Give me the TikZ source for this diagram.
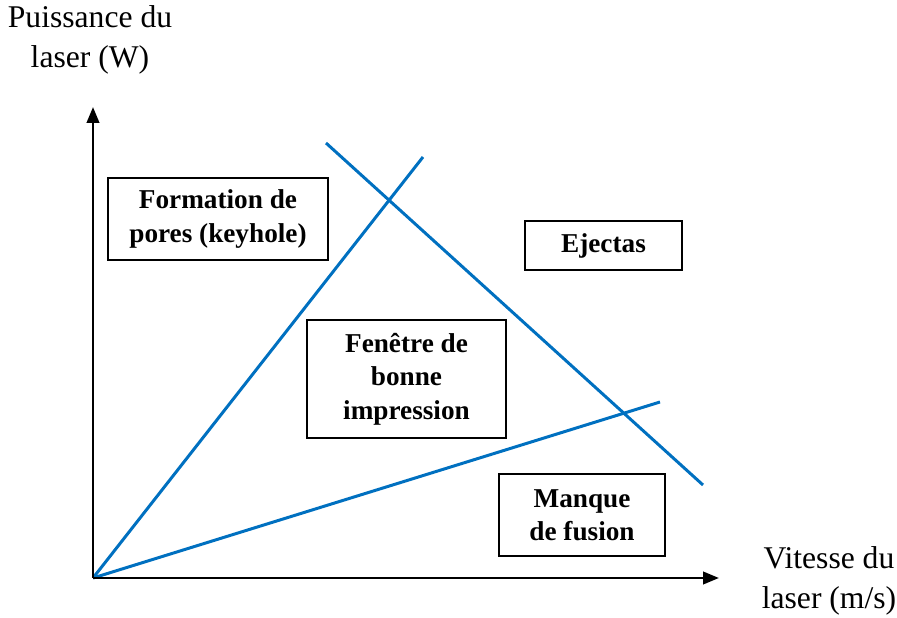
\documentclass[tikz,border=0pt]{standalone}
\usepackage{fontspec}
\setmainfont{Liberation Serif}
\usetikzlibrary{arrows.meta}
\definecolor{lineblue}{RGB}{0,112,192}
\begin{document}
\begin{tikzpicture}[x=0.02cm,y=-0.02cm,
  regbox/.style={draw=black,line width=1.1pt,fill=white,font=\bfseries\fontsize{15.5}{19}\selectfont,align=center,inner sep=0pt},
  axis/.style={line width=1.5pt,-{Triangle[length=9pt,width=7pt]}},
  bound/.style={lineblue,line width=1.7pt},
  axlabel/.style={font=\fontsize{18}{22.5}\selectfont,align=center}]
\useasboundingbox (0,0) rectangle (897,618);
\coordinate (O) at (93,578);
\coordinate (ytip) at (93,107);
\coordinate (xtip) at (719,578);
\coordinate (a1) at (423,157);
\coordinate (a2) at (660,402);
\coordinate (b1) at (326,143);
\coordinate (b2) at (703,485);
\draw[bound] (O) -- (a1);
\draw[bound] (O) -- (a2);
\draw[bound] (b1) -- (b2);
\draw[axis] (O) -- (ytip);
\draw[axis] (O) -- (xtip);
\node[regbox,minimum width=220*0.02cm,minimum height=82*0.02cm] (keyhole) at (218,219) {Formation de\\pores (keyhole)};
\node[regbox,minimum width=157*0.02cm,minimum height=49*0.02cm] (ejectas) at (603.5,245.5) {Ejectas};
\node[regbox,minimum width=199*0.02cm,minimum height=118*0.02cm] (fenetre) at (406.5,379) {Fenêtre de\\bonne\\impression};
\node[regbox,minimum width=166*0.02cm,minimum height=82*0.02cm] (manque) at (582,515) {Manque\\de fusion};
\node[axlabel] (ylab) at (90,40) {Puissance du\\laser (W)};
\node[axlabel] (xlab) at (829,581) {Vitesse du\\laser (m/s)};
\end{tikzpicture}
\end{document}
